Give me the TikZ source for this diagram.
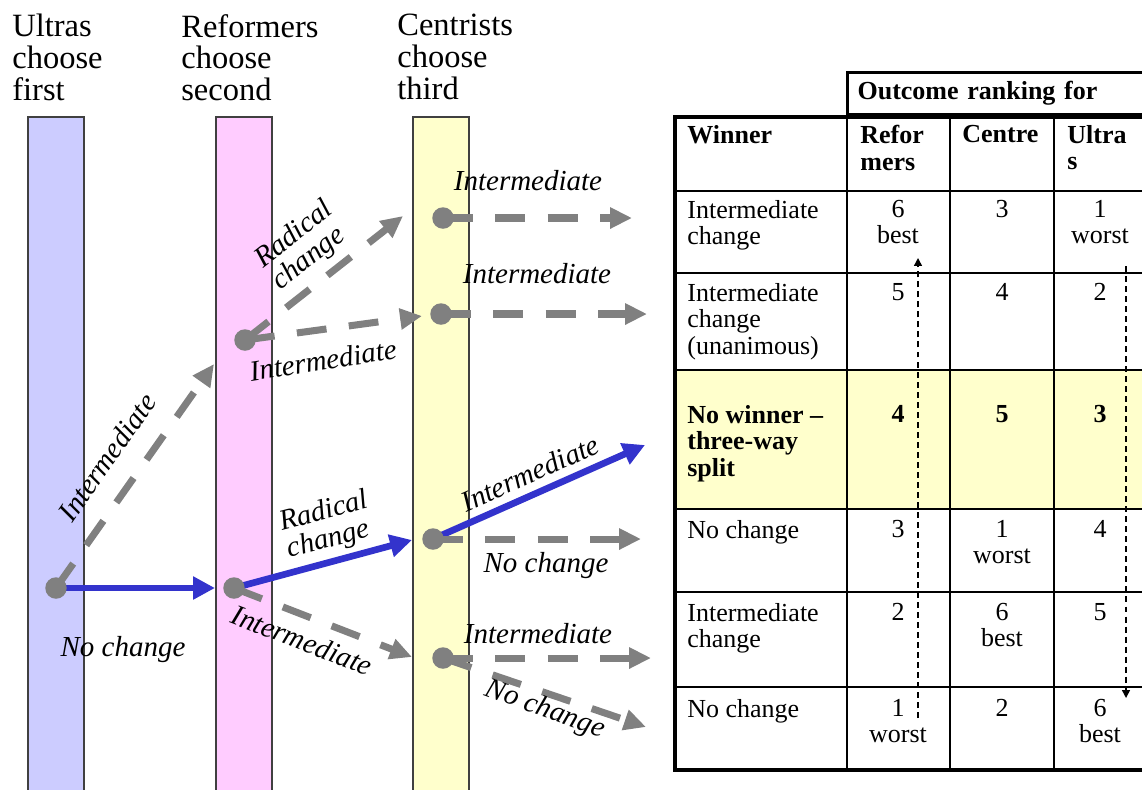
\documentclass[tikz,border=0pt]{standalone}
\usepackage{fontspec}
\setmainfont{Liberation Serif}
\usetikzlibrary{arrows.meta,backgrounds}
\definecolor{ultrablue}{RGB}{204,204,255}
\definecolor{reformpink}{RGB}{255,204,255}
\definecolor{centreyellow}{RGB}{255,255,204}
\definecolor{movegray}{RGB}{128,128,128}
\definecolor{pathblue}{RGB}{51,51,204}
\newcommand{\partybar}[3]{ \draw[fill=#3, draw=black!75, line width=0.6pt] ( #1 , 117 ) rectangle ( #2 , 800 );}
\newcommand{\choicept}[3]{\node[choice] (#1) at ( #2 , #3 ) {};}
\newcommand{\rankrow}[5]{%
  \node[cellnum] (#1-ref) at ( 898 , #2 ) {#3};
  \node[cellnum] (#1-cen) at ( 1002 , #2 ) {#4};
  \node[cellnum] (#1-ult) at ( 1100 , #2 ) {#5};}

\begin{document}
\begin{tikzpicture}[x=0.02cm, y=-0.02cm,
    choice/.style={circle, fill=movegray, inner sep=0pt, minimum size=0.43cm},
    graymove/.style={draw=movegray, line width=4pt, dash pattern=on 17pt off 12.8pt, -{Triangle[length=12.5pt,width=11.5pt]}},
    bluemove/.style={draw=pathblue, line width=3.8pt, -{Triangle[length=12.5pt,width=12.5pt]}},
    movelbl/.style={font=\fontsize{16.5}{16}\selectfont\itshape, inner sep=0pt, align=left},
    heading/.style={font=\fontsize{18.5}{18}\selectfont, inner sep=0pt, anchor=north west, align=left},
    cellleft/.style={font=\fontsize{14.8}{15}\selectfont, inner sep=0pt, anchor=north west, align=left},
    cellnum/.style={font=\fontsize{14.8}{15}\selectfont, inner sep=0pt, anchor=north, align=center},
    gridline/.style={line width=1.1pt},
    rankpath/.style={line width=0.8pt, dash pattern=on 3.4pt off 2.3pt, -{Triangle[length=4.5pt,width=4.5pt]}}]
    \useasboundingbox (0,0) rectangle (1142,789);
    \clip (0,0) rectangle (1142,789);
    % headings
    \node[heading] (h-ultras) at (12,14) {Ultras\\choose\\first};
    \node[heading] (h-reform) at (181,14) {Reformers\\choose\\second};
    \node[heading] (h-centre) at (397,14) {Centrists\\choose\\third};
    % choice points
    \choicept{u}{56}{588}
    \choicept{r1}{245}{340}
    \choicept{r2}{234}{588}
    \choicept{c1}{443}{218}
    \choicept{c2}{441}{314}
    \choicept{c3}{433}{539}
    \choicept{c4}{443}{658}
    % arrow ends
    \coordinate (u-up) at (214,364);
    \coordinate (u-on) at (215,588);
    \coordinate (r1-up) at (403,216);
    \coordinate (r1-on) at (422,316);
    \coordinate (r2-up) at (412,540);
    \coordinate (r2-dn) at (412,657);
    \coordinate (c1-on) at (632,218);
    \coordinate (c2-on) at (647,314);
    \coordinate (c3-up) at (645,445);
    \coordinate (c3-on) at (641,539);
    \coordinate (c4-on) at (651,658);
    \coordinate (c4-dn) at (646,727);
    \begin{pgfonlayer}{background}
    % party bars
    \partybar{28}{84}{ultrablue}
    \partybar{216}{272}{reformpink}
    \partybar{413}{469}{centreyellow}
    % Ultras moves
    \draw[graymove] (u.center) -- (u-up);
    \draw[bluemove] (u.center) -- (u-on);
    % Reformers moves
    \draw[graymove] (r1.center) -- (r1-up);
    \draw[graymove] (r1.center) -- (r1-on);
    \draw[bluemove] (r2.center) -- (r2-up);
    \draw[graymove] (r2.center) -- (r2-dn);
    % Centrists moves
    \draw[graymove] (c1.center) -- (c1-on);
    \draw[graymove] (c2.center) -- (c2-on);
    \draw[bluemove] (c3.center) -- (c3-up);
    \draw[graymove] (c3.center) -- (c3-on);
    \draw[graymove] (c4.center) -- (c4-on);
    \draw[graymove] (c4.center) -- (c4-dn);
    \end{pgfonlayer}
    % move labels
    \node[movelbl, rotate=55] (l-u-up) at (107,457) {Intermediate};
    \node[movelbl] (l-u-on) at (123,650) {No change};
    \node[movelbl, rotate=38] (l-r1-up) at (303,246) {Radical\\change};
    \node[movelbl, rotate=9] (l-r1-on) at (323,360) {Intermediate};
    \node[movelbl, rotate=15] (l-r2-up) at (328,526) {Radical\\change};
    \node[movelbl, rotate=-21] (l-r2-dn) at (302,640) {Intermediate};
    \node[movelbl] (l-c1-on) at (528,181) {Intermediate};
    \node[movelbl] (l-c2-on) at (537,274) {Intermediate};
    \node[movelbl, rotate=24] (l-c3-up) at (530,473) {Intermediate};
    \node[movelbl] (l-c3-on) at (546,566) {No change};
    \node[movelbl] (l-c4-on) at (538,634) {Intermediate};
    \node[movelbl, rotate=-20] (l-c4-dn) at (545,710) {No change};
    % table
    \fill[centreyellow] (675,370) rectangle (1160,509);
    \foreach \ry in {191,273,370,509,592,687}
        \draw[gridline] (675,\ry) -- (1160,\ry);
    \foreach \cx in {847,950,1054}
        \draw[gridline] (\cx,117) -- (\cx,770);
    \draw[line width=2.5pt] (675,117) rectangle (1165,770);
    \node[draw, line width=1.8pt, anchor=north west, minimum height=0.84cm, text width=6.4cm, inner xsep=0.2cm, align=left, font=\fontsize{14.8}{15}\selectfont\bfseries] (outcome) at (846,71) {Outcome ranking for};
    % header row
    \node[cellleft, font=\fontsize{14.8}{15}\selectfont\bfseries] (t-winner) at (687,125) {Winner};
    \node[cellleft, font=\fontsize{14.8}{15}\selectfont\bfseries] (t-ref) at (860,125) {Refor\\mers};
    \node[cellleft, font=\fontsize{14.8}{15}\selectfont\bfseries] (t-cen) at (962,125) {Centre};
    \node[cellleft, font=\fontsize{14.8}{15}\selectfont\bfseries] (t-ult) at (1067,125) {Ultra\\s};
    % winners
    \node[cellleft] (w1) at (687,200) {Intermediate\\change};
    \node[cellleft] (w2) at (687,283) {Intermediate\\change\\(unanimous)};
    \node[cellleft, font=\fontsize{14.8}{15}\selectfont\bfseries] (w3) at (687,405) {No winner --\\three-way\\split};
    \node[cellleft] (w4) at (687,520) {No change};
    \node[cellleft] (w5) at (687,603) {Intermediate\\change};
    \node[cellleft] (w6) at (687,699) {No change};
    % rankings
    \rankrow{k1}{200}{6\\best}{3}{1\\worst}
    \rankrow{k2}{283}{5}{4}{2}
    \rankrow{k3}{405}{\textbf{4}}{\textbf{5}}{\textbf{3}}
    \rankrow{k4}{520}{3}{1\\worst}{4}
    \rankrow{k5}{603}{2}{6\\best}{5}
    \rankrow{k6}{699}{1\\worst}{2}{6\\best}
    % rank direction arrows
    \coordinate (refrank-s) at (918,718);
    \coordinate (refrank-e) at (918,258);
    \coordinate (ultrank-s) at (1126,266);
    \coordinate (ultrank-e) at (1126,698);
    \draw[rankpath] (refrank-s) -- (refrank-e);
    \draw[rankpath] (ultrank-s) -- (ultrank-e);
\end{tikzpicture}
\end{document}
